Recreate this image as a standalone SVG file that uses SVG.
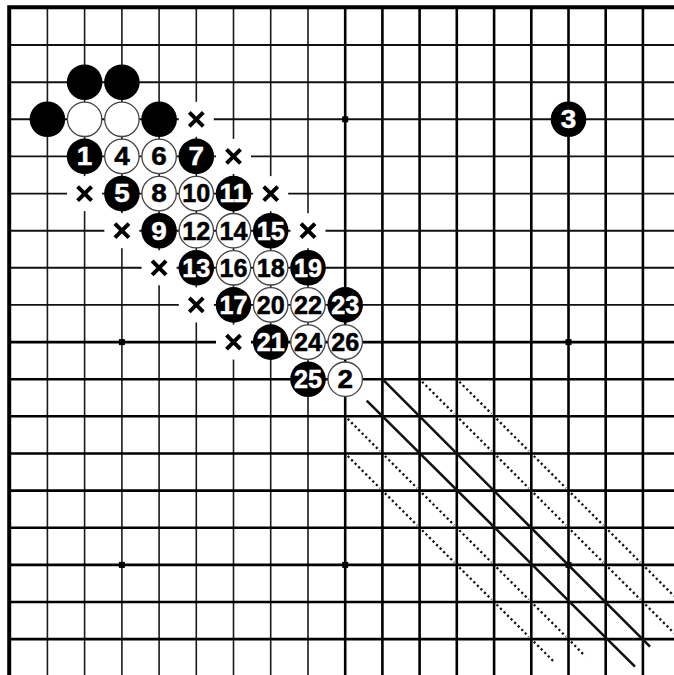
<svg xmlns="http://www.w3.org/2000/svg" width="674" height="675" viewBox="0 0 674 675">
<style>
.bg{fill:#fff}
.gt{stroke:#1a1a1a;stroke-width:1.6;fill:none}
.gT{stroke:#000;stroke-width:2.6;fill:none}
.ht{stroke:#111;stroke-width:1.9;fill:none}
.border{stroke:#000;stroke-width:4;fill:none}
.star{fill:#000}
.b{fill:#000}
.w{fill:#fff;stroke:#444;stroke-width:1.3}
.n{font-family:"Liberation Sans",Arial,sans-serif;font-weight:bold;font-size:25px;text-anchor:middle;stroke-width:0.5}
.nb{fill:#fff;stroke:#fff}
.nw{fill:#000;stroke:#000}
.xbg{fill:#fff}
.xm{stroke:#000;stroke-width:4;fill:none}
.sol{stroke:#111;stroke-width:2.6;fill:none}
.dot{stroke:#111;stroke-width:2.3;fill:none;stroke-dasharray:2.2 2.8}
</style>
<rect class="bg" x="0" y="0" width="674" height="675"/>
<g id="grid">
<path class="gt" d="M47.4 7V675M84.6 7V675M121.9 7V675M159.1 7V675M196.3 7V675M233.5 7V675M270.7 7V675M308 7V675"/>
<path class="gT" d="M345.2 7V675M382.4 7V675M419.6 7V675M456.8 7V675M494.1 7V675M531.3 7V675M568.5 7V675M605.7 7V675M642.9 7V675"/>
<path class="ht" d="M9 45H674M9 82.2H674M9 119.3H674M9 156.4H674M9 193.6H674M9 230.7H674M9 267.8H674M9 304.9H674"/>
<path class="gT" d="M9 342.1H674M9 379.2H674M9 416.3H674M9 453.5H674M9 490.6H674M9 527.7H674M9 564.9H674M9 602H674M9 639.1H674"/>
<path class="border" d="M9.2 675V7.2H674"/>
</g>
<g id="stars">
<rect class="star" x="342.2" y="116.3" width="6" height="6"/>
<rect class="star" x="118.9" y="339.1" width="6" height="6"/>
<rect class="star" x="565.5" y="339.1" width="6" height="6"/>
<rect class="star" x="118.9" y="561.9" width="6" height="6"/>
<rect class="star" x="342.2" y="561.9" width="6" height="6"/>
<rect class="star" x="565.5" y="561.9" width="6" height="6"/>
</g>
<g id="connectors">
<line class="sol" x1="382.4" y1="379.2" x2="650" y2="646.7"/>
<line class="sol" x1="366.7" y1="400.7" x2="635" y2="666.7"/>
<path class="dot" d="M347.7 418.8L379.9 451M384.9 456L417.1 488.1M422.1 493.1L454.3 525.2M459.3 530.2L491.6 562.4M496.6 567.4L528.8 599.5M533.8 604.5L566 636.6M571 641.6L585 656"/>
<path class="dot" d="M347.7 456L379.9 488.1M384.9 493.1L417.1 525.2M422.1 530.2L454.3 562.4M459.3 567.4L491.6 599.5M496.6 604.5L528.8 636.6M533.8 641.6L555 662.8"/>
<path class="dot" d="M422.1 381.7L454.3 413.8M459.3 418.8L491.6 451M496.6 456L528.8 488.1M533.8 493.1L566 525.2M571 530.2L603.2 562.4M608.2 567.4L640.4 599.5M645.4 604.5L674 633"/>
<path class="dot" d="M459.3 381.7L491.6 413.8M496.6 418.8L528.8 451M533.8 456L566 488.1M571 493.1L603.2 525.2M608.2 530.2L640.4 562.4M645.4 567.4L674 596"/>
</g>
<g id="marks">
<g id="x1" transform="translate(196.3 119.3)"><rect class="xbg" x="-17.5" y="-17.5" width="35" height="35"/><path class="xm" d="M-7 -7L7 7M7 -7L-7 7"/></g>
<g id="x2" transform="translate(233.5 156.4)"><rect class="xbg" x="-17.5" y="-17.5" width="35" height="35"/><path class="xm" d="M-7 -7L7 7M7 -7L-7 7"/></g>
<g id="x3" transform="translate(84.6 193.6)"><rect class="xbg" x="-17.5" y="-17.5" width="35" height="35"/><path class="xm" d="M-7 -7L7 7M7 -7L-7 7"/></g>
<g id="x4" transform="translate(270.7 193.6)"><rect class="xbg" x="-17.5" y="-17.5" width="35" height="35"/><path class="xm" d="M-7 -7L7 7M7 -7L-7 7"/></g>
<g id="x5" transform="translate(121.9 230.7)"><rect class="xbg" x="-17.5" y="-17.5" width="35" height="35"/><path class="xm" d="M-7 -7L7 7M7 -7L-7 7"/></g>
<g id="x6" transform="translate(308 230.7)"><rect class="xbg" x="-17.5" y="-17.5" width="35" height="35"/><path class="xm" d="M-7 -7L7 7M7 -7L-7 7"/></g>
<g id="x7" transform="translate(159.1 267.8)"><rect class="xbg" x="-17.5" y="-17.5" width="35" height="35"/><path class="xm" d="M-7 -7L7 7M7 -7L-7 7"/></g>
<g id="x8" transform="translate(196.3 304.9)"><rect class="xbg" x="-17.5" y="-17.5" width="35" height="35"/><path class="xm" d="M-7 -7L7 7M7 -7L-7 7"/></g>
<g id="x9" transform="translate(233.5 342.1)"><rect class="xbg" x="-17.5" y="-17.5" width="35" height="35"/><path class="xm" d="M-7 -7L7 7M7 -7L-7 7"/></g>
</g>
<g id="stones">
<g id="b-a"><circle class="b" cx="84.6" cy="82.2" r="17.8"/></g>
<g id="b-b"><circle class="b" cx="121.9" cy="82.2" r="17.8"/></g>
<g id="b-c"><circle class="b" cx="47.4" cy="119.3" r="17.8"/></g>
<g id="b-d"><circle class="b" cx="159.1" cy="119.3" r="17.8"/></g>
<g id="w-a"><circle class="w" cx="84.6" cy="119.3" r="17.2"/></g>
<g id="w-b"><circle class="w" cx="121.9" cy="119.3" r="17.2"/></g>
<g id="s1"><circle class="b" cx="84.6" cy="156.4" r="17.8"/><text class="n nb" x="84.6" y="165.2" textLength="15.5" lengthAdjust="spacingAndGlyphs">1</text></g>
<g id="s4"><circle class="w" cx="121.9" cy="156.4" r="17.2"/><text class="n nw" x="121.9" y="165.2" textLength="15.5" lengthAdjust="spacingAndGlyphs">4</text></g>
<g id="s6"><circle class="w" cx="159.1" cy="156.4" r="17.2"/><text class="n nw" x="159.1" y="165.2" textLength="15.5" lengthAdjust="spacingAndGlyphs">6</text></g>
<g id="s7"><circle class="b" cx="196.3" cy="156.4" r="17.8"/><text class="n nb" x="196.3" y="165.2" textLength="15.5" lengthAdjust="spacingAndGlyphs">7</text></g>
<g id="s5"><circle class="b" cx="121.9" cy="193.6" r="17.8"/><text class="n nb" x="121.9" y="202.4" textLength="15.5" lengthAdjust="spacingAndGlyphs">5</text></g>
<g id="s8"><circle class="w" cx="159.1" cy="193.6" r="17.2"/><text class="n nw" x="159.1" y="202.4" textLength="15.5" lengthAdjust="spacingAndGlyphs">8</text></g>
<g id="s10"><circle class="w" cx="196.3" cy="193.6" r="17.2"/><text class="n nw" x="196.3" y="202.4" textLength="28" lengthAdjust="spacingAndGlyphs">10</text></g>
<g id="s11"><circle class="b" cx="233.5" cy="193.6" r="17.8"/><text class="n nb" x="233.5" y="202.4" textLength="28" lengthAdjust="spacingAndGlyphs">11</text></g>
<g id="s9"><circle class="b" cx="159.1" cy="230.7" r="17.8"/><text class="n nb" x="159.1" y="239.5" textLength="15.5" lengthAdjust="spacingAndGlyphs">9</text></g>
<g id="s12"><circle class="w" cx="196.3" cy="230.7" r="17.2"/><text class="n nw" x="196.3" y="239.5" textLength="28" lengthAdjust="spacingAndGlyphs">12</text></g>
<g id="s14"><circle class="w" cx="233.5" cy="230.7" r="17.2"/><text class="n nw" x="233.5" y="239.5" textLength="28" lengthAdjust="spacingAndGlyphs">14</text></g>
<g id="s15"><circle class="b" cx="270.7" cy="230.7" r="17.8"/><text class="n nb" x="270.7" y="239.5" textLength="28" lengthAdjust="spacingAndGlyphs">15</text></g>
<g id="s13"><circle class="b" cx="196.3" cy="267.8" r="17.8"/><text class="n nb" x="196.3" y="276.6" textLength="28" lengthAdjust="spacingAndGlyphs">13</text></g>
<g id="s16"><circle class="w" cx="233.5" cy="267.8" r="17.2"/><text class="n nw" x="233.5" y="276.6" textLength="28" lengthAdjust="spacingAndGlyphs">16</text></g>
<g id="s18"><circle class="w" cx="270.7" cy="267.8" r="17.2"/><text class="n nw" x="270.7" y="276.6" textLength="28" lengthAdjust="spacingAndGlyphs">18</text></g>
<g id="s19"><circle class="b" cx="308" cy="267.8" r="17.8"/><text class="n nb" x="308" y="276.6" textLength="28" lengthAdjust="spacingAndGlyphs">19</text></g>
<g id="s17"><circle class="b" cx="233.5" cy="304.9" r="17.8"/><text class="n nb" x="233.5" y="313.7" textLength="28" lengthAdjust="spacingAndGlyphs">17</text></g>
<g id="s20"><circle class="w" cx="270.7" cy="304.9" r="17.2"/><text class="n nw" x="270.7" y="313.7" textLength="28" lengthAdjust="spacingAndGlyphs">20</text></g>
<g id="s22"><circle class="w" cx="308" cy="304.9" r="17.2"/><text class="n nw" x="308" y="313.7" textLength="28" lengthAdjust="spacingAndGlyphs">22</text></g>
<g id="s23"><circle class="b" cx="345.2" cy="304.9" r="17.8"/><text class="n nb" x="345.2" y="313.7" textLength="28" lengthAdjust="spacingAndGlyphs">23</text></g>
<g id="s21"><circle class="b" cx="270.7" cy="342.1" r="17.8"/><text class="n nb" x="270.7" y="350.9" textLength="28" lengthAdjust="spacingAndGlyphs">21</text></g>
<g id="s24"><circle class="w" cx="308" cy="342.1" r="17.2"/><text class="n nw" x="308" y="350.9" textLength="28" lengthAdjust="spacingAndGlyphs">24</text></g>
<g id="s26"><circle class="w" cx="345.2" cy="342.1" r="17.2"/><text class="n nw" x="345.2" y="350.9" textLength="28" lengthAdjust="spacingAndGlyphs">26</text></g>
<g id="s25"><circle class="b" cx="308" cy="379.2" r="17.8"/><text class="n nb" x="308" y="388" textLength="28" lengthAdjust="spacingAndGlyphs">25</text></g>
<g id="s2"><circle class="w" cx="345.2" cy="379.2" r="17.2"/><text class="n nw" x="345.2" y="388" textLength="15.5" lengthAdjust="spacingAndGlyphs">2</text></g>
<g id="s3"><circle class="b" cx="568.5" cy="119.3" r="17.8"/><text class="n nb" x="568.5" y="128.1" textLength="15.5" lengthAdjust="spacingAndGlyphs">3</text></g>
</g>
</svg>
